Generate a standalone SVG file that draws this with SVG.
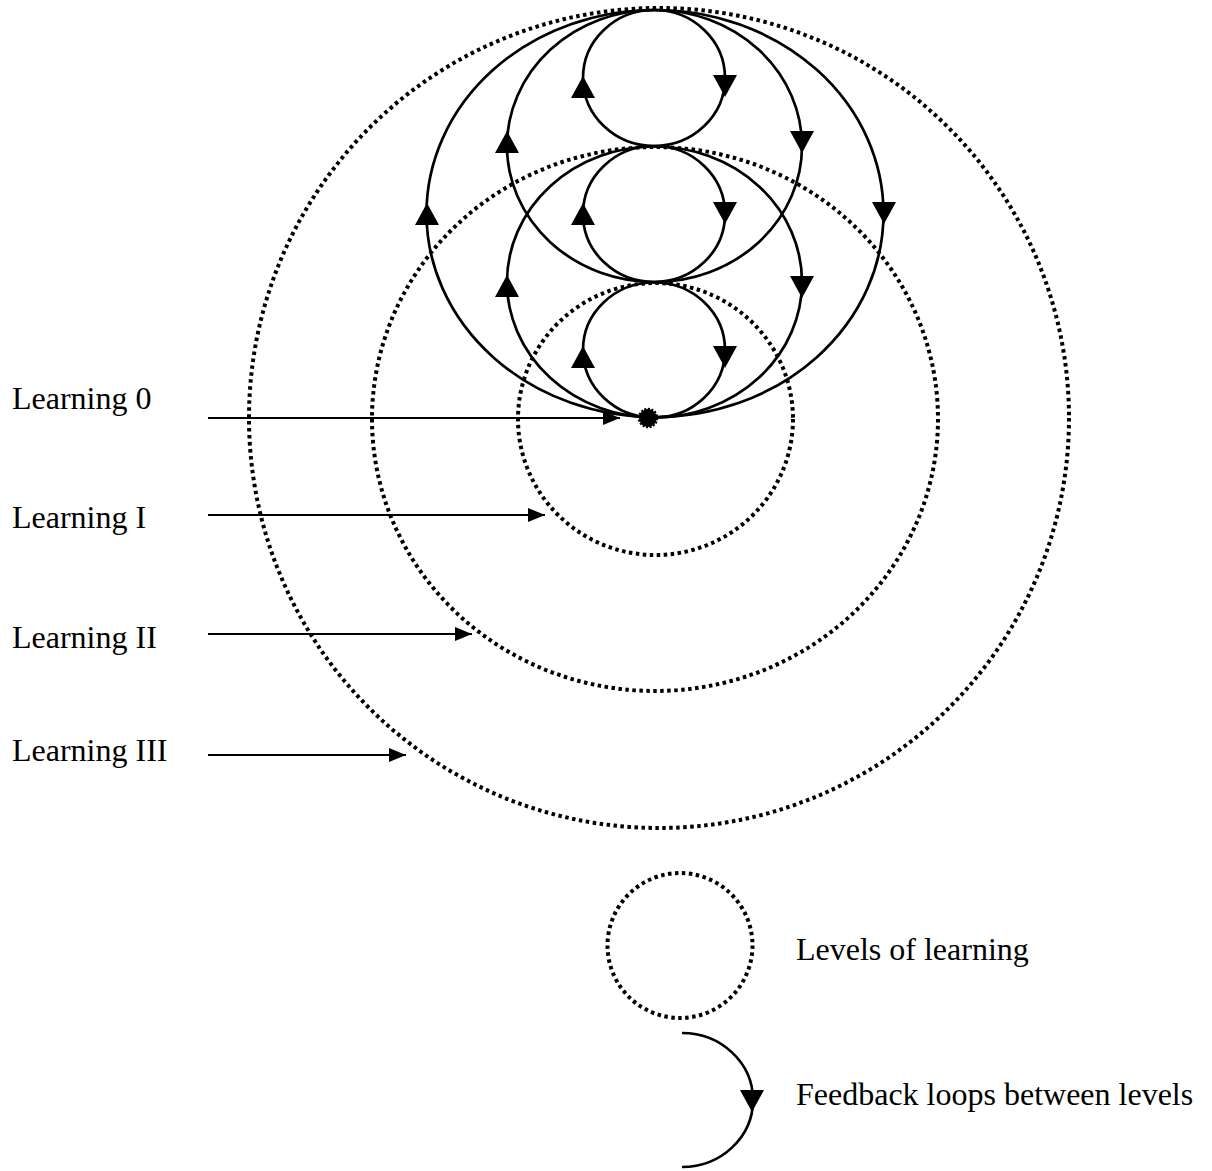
<svg xmlns="http://www.w3.org/2000/svg" width="1212" height="1171" viewBox="0 0 1212 1171">
<style>
.level{fill:none;stroke:#000;stroke-width:4;stroke-dasharray:3.5 3.5}
.loop{fill:none;stroke:#000;stroke-width:2.7}
.ptr{fill:none;stroke:#000;stroke-width:1.8;marker-end:url(#ah)}
.lbl{font-family:"Liberation Serif","Times New Roman",serif;font-size:32px;fill:#000}
</style>
<defs>
<marker id="ah" markerUnits="userSpaceOnUse" markerWidth="18" markerHeight="15" refX="17" refY="7" orient="auto">
<path d="M0,0 L17,7 L0,14 Z" fill="#000"/>
</marker>
<path id="up" d="M0,0 L12,22 L-12,22 Z" fill="#000"/>
<path id="down" d="M0,0 L12,-22 L-12,-22 Z" fill="#000"/>
</defs>
<rect width="1212" height="1171" fill="#fff"/>

<g id="level-III"><ellipse class="level" cx="659" cy="418" rx="410" ry="410"/></g>
<g id="level-II"><ellipse class="level" cx="655" cy="419" rx="283" ry="272"/></g>
<g id="level-I"><ellipse class="level" cx="655.5" cy="419" rx="137.5" ry="136"/></g>

<g id="loops">
<g id="loop-small-top"><ellipse class="loop" cx="654" cy="78" rx="71" ry="68"/><use href="#up" x="583" y="76"/><use href="#down" x="725" y="97"/></g>
<g id="loop-small-mid"><ellipse class="loop" cx="654" cy="214" rx="71" ry="68"/><use href="#up" x="583" y="203"/><use href="#down" x="725" y="224"/></g>
<g id="loop-small-bot"><ellipse class="loop" cx="654" cy="350" rx="71" ry="67.5"/><use href="#up" x="583" y="346"/><use href="#down" x="725" y="368"/></g>
<g id="loop-med-top"><ellipse class="loop" cx="654.5" cy="146" rx="147.5" ry="136"/><use href="#up" x="507" y="131"/><use href="#down" x="802" y="153"/></g>
<g id="loop-med-bot"><ellipse class="loop" cx="654.5" cy="282" rx="147.5" ry="135.5"/><use href="#up" x="507" y="275"/><use href="#down" x="802" y="298"/></g>
<g id="loop-large"><ellipse class="loop" cx="655" cy="213.5" rx="228.5" ry="203.5"/><use href="#up" x="427" y="203"/><use href="#down" x="884" y="224"/></g>
</g>

<g id="learning-0-point"><circle cx="648" cy="418" r="9" fill="#000" stroke="#000" stroke-width="2.5" stroke-dasharray="2 1.5"/></g>

<g id="connectors">
<line class="ptr" x1="208" y1="418" x2="620" y2="418"/>
<line class="ptr" x1="208" y1="515" x2="545" y2="515"/>
<line class="ptr" x1="208" y1="634" x2="472" y2="634"/>
<line class="ptr" x1="208" y1="755" x2="406" y2="755"/>
</g>

<g id="label-0"><text class="lbl" x="12" y="409">Learning 0</text></g>
<g id="label-I"><text class="lbl" x="12" y="528">Learning I</text></g>
<g id="label-II"><text class="lbl" x="12" y="648">Learning II</text></g>
<g id="label-III"><text class="lbl" x="12" y="761">Learning III</text></g>

<g id="legend-levels">
<circle class="level" cx="680" cy="945.5" r="72.5"/>
<text class="lbl" x="796" y="960">Levels of learning</text>
</g>
<g id="legend-feedback">
<path class="loop" d="M682,1033 A71,67 0 0 1 682,1167"/>
<use href="#down" x="752" y="1112"/>
<text class="lbl" x="796" y="1105">Feedback loops between levels</text>
</g>
</svg>
